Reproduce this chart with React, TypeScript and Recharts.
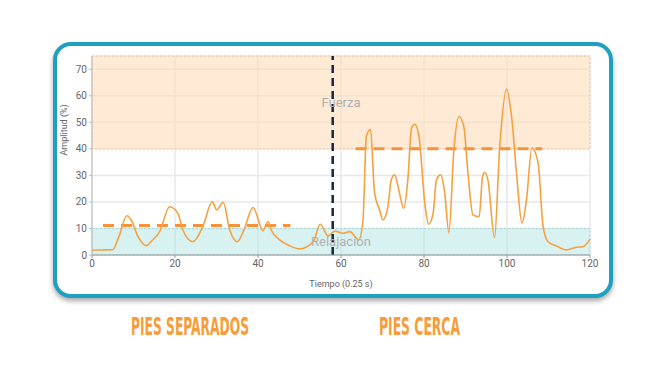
import React from 'react';
import {
  LineChart,
  Line,
  XAxis,
  YAxis,
  CartesianGrid,
  ReferenceArea,
  ReferenceLine,
} from 'recharts';

// time samples (units of 0.25 s) and amplitude (%)
const times = [
  0, 2, 5, 6.5, 8.4, 9.5, 11.1, 13.1, 14.5, 16.3, 18.7, 20.7, 21.9, 24.3, 26.7, 29, 30, 31.6,
  33.2, 35, 36.5, 38.8, 41.2, 42.4, 43.2, 45.2, 47.6, 50, 53.3, 55, 56.9, 58.5, 60.5, 62.1,
  64.3, 65.3, 66.1, 67.1, 68.1, 69.3, 70.1, 71.3, 72.1, 72.9, 74.1, 75.1, 76.1, 77, 77.8,
  78.8, 80.2, 81.1, 82.2, 83, 84, 85, 86, 87.2, 88.4, 89.6, 90.6, 91.8, 93.3, 94.1, 94.6,
  95.4, 97, 98.2, 99.9, 101.1, 102.3, 103.6, 104.7, 106, 107.5, 108.7, 109.9, 111.9, 114.3,
  116.7, 118.3, 120,
];
const amplitude = [
  1.8, 1.9, 2.0, 7, 14.8, 13, 6.9, 3.5, 5.5, 8.8, 18.2, 15.7, 9.4, 5.0, 10.7, 20.1, 17, 19.9,
  9.4, 5.0, 9, 17.9, 9.2, 12.6, 9.4, 5.7, 3.5, 2.3, 5.0, 11.6, 7.2, 9, 8.2, 8.8,
  5.7, 13.2, 44.6, 47.4, 23.3, 17, 13.2, 18.2, 28.3, 30.2, 23.3, 17.6, 28.3, 47.8, 49.3,
  44.6, 19.5, 11.6, 15.7, 28.3, 30.2, 23.3, 8.4, 39.6, 52.2, 48.4, 30.8, 15.1, 14.5, 29.5, 31.1,
  28.3, 6.5, 39.6, 62.5, 52.2, 30.8, 12, 20.8, 40.3, 34.6, 10.7, 5, 3.4, 1.9,
  2.9, 3.1, 6,
];

const xTicks = [0, 20, 40, 60, 80, 100, 120];
const yTicks = [0, 10, 20, 30, 40, 50, 60, 70];

// zones
const relaxZone = [0, 10];
const forceZone = [40, 75];

// phase split and mean amplitude of each phase
const splitTime = 58;
const meanSeparated = { from: 2.65, to: 47.8, value: 11.1 };
const meanClose = { from: 63.5, to: 108.5, value: 40 };

const data = times.map((t, i) => ({ t, amp: amplitude[i] }));

const orange = '#f7a040';

export default function App() {
  return (
    <div
      style={{
        position: 'fixed',
        left: 0,
        top: 0,
        width: 672,
        height: 378,
        background: '#fff',
        fontFamily: 'Roboto, sans-serif',
      }}
    >
      <div
        style={{
          position: 'absolute',
          left: 53,
          top: 42,
          width: 552,
          height: 248,
          border: '4px solid #1ea1c1',
          borderRadius: 18,
          boxShadow: '0 3px 5px rgba(0,0,0,0.35)',
          background: '#fff',
        }}
      />
      <div style={{ position: 'absolute', left: 0, top: 0 }}>
        <LineChart
          width={672}
          height={300}
          data={data}
          margin={{ top: 56, right: 82, left: 50, bottom: 15 }}
        >
          <CartesianGrid stroke="#e8e8e8" strokeWidth={1.5} />
          <ReferenceArea
            y1={forceZone[0]}
            y2={forceZone[1]}
            x1={0}
            x2={120}
            fill="#fddcb9"
            fillOpacity={0.6}
            stroke="#f6c89c"
            strokeDasharray="2 2"
            label={{ value: 'Fuerza', position: 'center', fill: '#b0b0b0', fontSize: 13 }}
          />
          <ReferenceArea
            y1={relaxZone[0]}
            y2={relaxZone[1]}
            x1={0}
            x2={120}
            fill="#a8e2e2"
            fillOpacity={0.45}
            stroke="#a6dcdc"
            strokeDasharray="2 2"
            label={{ value: 'Relajación', position: 'center', fill: '#b0b0b0', fontSize: 13 }}
          />
          <XAxis
            type="number"
            dataKey="t"
            domain={[0, 120]}
            ticks={xTicks}
            tick={{ fill: '#666', fontSize: 10 }}
            tickSize={3}
            stroke="#999"
            height={30}
            label={{ value: 'Tiempo (0.25 s)', position: 'insideBottom', offset: -2, fill: '#666', fontSize: 9 }}
          />
          <YAxis
            type="number"
            domain={[0, 75]}
            ticks={yTicks}
            tick={{ fill: '#666', fontSize: 10 }}
            tickSize={3}
            stroke="#bbb"
            width={42}
            label={{ value: 'Amplitud (%)', angle: -90, position: 'insideLeft', offset: 14, fill: '#666', fontSize: 9 }}
          />
          <ReferenceLine
            segment={[
              { x: meanSeparated.from, y: meanSeparated.value },
              { x: meanSeparated.to, y: meanSeparated.value },
            ]}
            stroke="#f7923a"
            strokeWidth={3}
            strokeDasharray="11 7"
          />
          <ReferenceLine
            segment={[
              { x: meanClose.from, y: meanClose.value },
              { x: meanClose.to, y: meanClose.value },
            ]}
            stroke="#f7923a"
            strokeWidth={3}
            strokeDasharray="11 7"
          />
          <Line
            type="monotone"
            dataKey="amp"
            stroke={orange}
            strokeWidth={1.6}
            dot={false}
            isAnimationActive={false}
          />
          <ReferenceLine x={splitTime} stroke="#1b2440" strokeWidth={2.5} strokeDasharray="8 5" />
        </LineChart>
      </div>
      <svg style={{ position: 'absolute', left: 0, top: 300 }} width={672} height={60}>
        <text
          x={131}
          y={35}
          textLength={118}
          lengthAdjust="spacingAndGlyphs"
          fill="#f89c3a"
          fontFamily="'Liberation Sans Narrow', 'DejaVu Sans Condensed', sans-serif"
          fontWeight="bold"
          fontSize={25}
        >
          PIES SEPARADOS
        </text>
        <text
          x={379}
          y={35}
          textLength={81}
          lengthAdjust="spacingAndGlyphs"
          fill="#f89c3a"
          fontFamily="'Liberation Sans Narrow', 'DejaVu Sans Condensed', sans-serif"
          fontWeight="bold"
          fontSize={25}
        >
          PIES CERCA
        </text>
      </svg>
    </div>
  );
}
